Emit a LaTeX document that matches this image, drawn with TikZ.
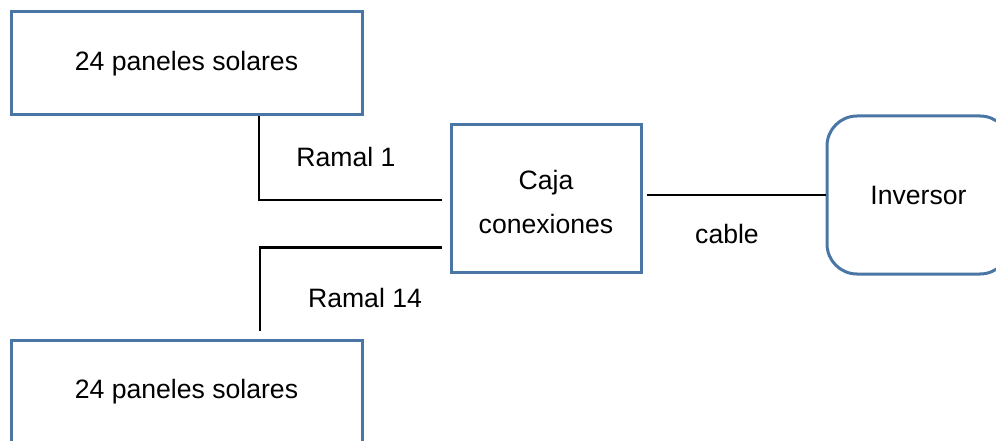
\documentclass[tikz,border=0pt]{standalone}
\usepackage{fontspec}
\setmainfont{Liberation Sans}
\definecolor{boxblue}{HTML}{4A76A6}
\begin{document}
\begin{tikzpicture}[x=1pt,y=-1pt]
\tikzset{
  txt/.style={font=\fontsize{26.6}{44}\selectfont, inner sep=0pt},
  panel/.style={txt, draw=boxblue, line width=3pt, minimum width=351pt, minimum height=103pt},
  hub/.style={txt, draw=boxblue, line width=3pt, minimum width=190pt, minimum height=147pt, align=center},
  inv/.style={txt, draw=boxblue, line width=3pt, rounded corners=30pt, minimum width=183pt, minimum height=158pt},
  wire/.style={draw=black, line width=2.2pt}
}
\clip (0,0) rectangle (996,441);

% boxes
\node[panel] (p1) at (186.5,63.5) {24 paneles solares};
\node[panel, minimum height=110pt, text height=19pt, text depth=12pt] (p2) at (186.5,395) {24 paneles solares};
\node[hub] (caja) at (546,198.5) {\rule{0pt}{25.5pt}Caja\\conexiones};
\node[inv] (inv) at (918.5,195) {Inversor};

% string connections
\coordinate (k1) at (259,200);
\coordinate (k2) at (260,247.5);
\draw[wire, shorten >=8pt] (k1 |- p1.south) -- (k1) -- (k1 -| caja.west);
\draw[wire, shorten <=8pt, shorten >=8pt] (k2 -| caja.west) -- (k2) -- (k2 |- p2.north);
\draw[wire, shorten <=4pt] (caja.east |- inv.west) -- (inv.west);

% labels
\node[txt] (r1) at (346,157) {Ramal 1};
\node[txt] (r14) at (365,298) {Ramal 14};
\node[txt] (cab) at (727,234) {cable};
\end{tikzpicture}
\end{document}
